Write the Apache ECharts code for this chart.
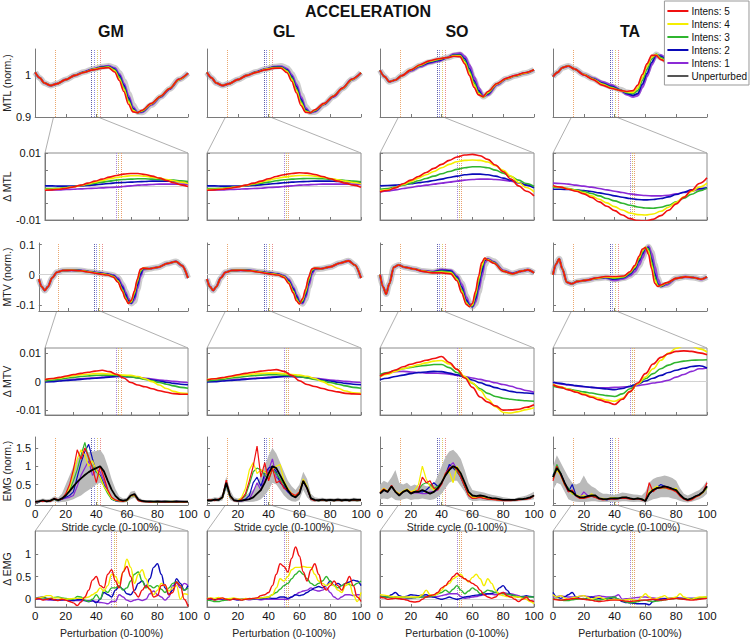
<!DOCTYPE html>
<html><head><meta charset="utf-8">
<script src="https://cdn.jsdelivr.net/npm/echarts@6/dist/echarts.min.js"></script>
<style>html,body{margin:0;padding:0;background:#fff}#c{width:750px;height:640px}</style>
</head><body><div id="c"></div>
<script>
// ---------- x grids ----------
const X_MTL=[0,3,6,10,14,20,26,32,38,44,48,52,55,58,61,64,67,70,76,82,88,94,100];
const X_MTV=[0,2,4,6,9,12,16,22,28,34,40,46,50,53,56,58,60,62,64,66,68,70,74,80,86,92,96,100];
const X21=[0,5,10,15,20,25,30,35,40,45,50,55,60,65,70,75,80,85,90,95,100];
const X41=[0,2.5,5,7.5,10,12.5,15,17.5,20,22.5,25,27.5,30,32.5,35,37.5,40,42.5,45,47.5,50,52.5,55,57.5,60,62.5,65,67.5,70,72.5,75,77.5,80,82.5,85,87.5,90,92.5,95,97.5,100];
const STRIDE_MARKS=[13,37,38.5,40.5,42.5];
const PERT_MARKS=[50,51.5,53];
const ZOOM_WINDOW=[12,41];
const X_TICKS=[0,20,40,60,80,100];

// ---------- MTL (norm.) ----------
const GM_MTL_U=[1.005,0.992,0.980,0.974,0.978,0.988,0.998,1.006,1.013,1.018,1.020,1.016,1.004,0.984,0.955,0.928,0.912,0.911,0.928,0.947,0.966,0.988,1.003];
const GM_MTL_1=[1.005,0.992,0.980,0.974,0.978,0.988,0.998,1.006,1.013,1.018,1.020,1.015,1.001,0.979,0.950,0.923,0.910,0.912,0.929,0.947,0.966,0.988,1.003];
const GM_MTL_2=[1.005,0.992,0.980,0.974,0.978,0.988,0.998,1.006,1.013,1.018,1.019,1.013,0.998,0.975,0.945,0.920,0.910,0.913,0.930,0.948,0.966,0.988,1.003];
const GM_MTL_3=[1.005,0.992,0.980,0.974,0.978,0.988,0.998,1.006,1.012,1.017,1.018,1.011,0.994,0.970,0.940,0.917,0.910,0.914,0.931,0.948,0.967,0.988,1.003];
const GM_MTL_4=[1.005,0.992,0.980,0.974,0.978,0.988,0.998,1.005,1.012,1.016,1.017,1.009,0.990,0.966,0.936,0.915,0.910,0.915,0.931,0.949,0.967,0.988,1.003];
const GM_MTL_5=[1.005,0.992,0.980,0.974,0.978,0.988,0.998,1.005,1.011,1.015,1.016,1.006,0.986,0.960,0.930,0.912,0.910,0.916,0.932,0.949,0.967,0.989,1.003];
const GL_MTL_U=[1.005,0.992,0.980,0.974,0.978,0.988,0.998,1.006,1.013,1.018,1.020,1.015,1.002,0.981,0.952,0.925,0.911,0.912,0.929,0.948,0.967,0.988,1.004];
const GL_MTL_1=[1.005,0.992,0.980,0.974,0.978,0.988,0.998,1.006,1.013,1.018,1.019,1.013,0.999,0.977,0.947,0.921,0.910,0.913,0.930,0.948,0.967,0.988,1.004];
const GL_MTL_2=[1.005,0.992,0.980,0.974,0.978,0.988,0.998,1.006,1.013,1.018,1.018,1.011,0.996,0.972,0.942,0.918,0.910,0.914,0.930,0.948,0.967,0.988,1.004];
const GL_MTL_3=[1.005,0.992,0.980,0.974,0.978,0.988,0.998,1.006,1.012,1.017,1.017,1.009,0.992,0.967,0.937,0.915,0.910,0.915,0.931,0.949,0.967,0.988,1.004];
const GL_MTL_4=[1.005,0.992,0.980,0.974,0.978,0.988,0.998,1.005,1.012,1.016,1.016,1.007,0.988,0.963,0.933,0.913,0.910,0.916,0.931,0.949,0.967,0.988,1.004];
const GL_MTL_5=[1.005,0.992,0.980,0.974,0.978,0.988,0.998,1.005,1.011,1.015,1.015,1.004,0.984,0.957,0.927,0.911,0.910,0.917,0.932,0.949,0.968,0.989,1.004];
const SO_MTL_U=[1.010,0.995,0.983,0.987,0.997,1.010,1.021,1.029,1.034,1.040,1.045,1.047,1.037,1.015,0.988,0.963,0.948,0.954,0.977,0.990,0.997,1.003,1.011];
const SO_MTL_1=[1.010,0.995,0.983,0.987,0.997,1.009,1.019,1.027,1.032,1.040,1.048,1.050,1.042,1.022,0.994,0.968,0.950,0.952,0.976,0.990,0.997,1.003,1.011];
const SO_MTL_2=[1.010,0.995,0.983,0.987,0.997,1.010,1.020,1.028,1.033,1.040,1.046,1.047,1.037,1.014,0.986,0.962,0.948,0.954,0.977,0.990,0.997,1.003,1.011];
const SO_MTL_3=[1.010,0.995,0.983,0.987,0.997,1.010,1.021,1.030,1.035,1.040,1.045,1.045,1.033,1.009,0.981,0.958,0.947,0.956,0.978,0.990,0.997,1.003,1.011];
const SO_MTL_4=[1.010,0.995,0.983,0.987,0.997,1.011,1.022,1.031,1.036,1.040,1.044,1.044,1.029,1.004,0.976,0.955,0.947,0.958,0.978,0.990,0.997,1.003,1.011];
const SO_MTL_5=[1.010,0.995,0.983,0.987,0.997,1.011,1.023,1.032,1.037,1.040,1.043,1.042,1.025,0.998,0.970,0.952,0.948,0.960,0.979,0.991,0.998,1.004,1.011];
const TA_MTL_U=[0.995,1.005,1.016,1.020,1.013,1.000,0.990,0.979,0.971,0.964,0.958,0.955,0.960,0.983,1.008,1.033,1.047,1.040,1.026,1.016,1.008,1.001,0.997];
const TA_MTL_1=[0.995,1.005,1.016,1.020,1.013,1.000,0.991,0.982,0.975,0.963,0.953,0.948,0.951,0.970,0.996,1.023,1.043,1.045,1.028,1.016,1.008,1.001,0.997];
const TA_MTL_2=[0.995,1.005,1.016,1.020,1.013,1.000,0.990,0.980,0.972,0.963,0.955,0.951,0.955,0.977,1.002,1.028,1.046,1.043,1.027,1.016,1.008,1.001,0.997];
const TA_MTL_3=[0.995,1.005,1.016,1.020,1.013,1.000,0.990,0.978,0.970,0.963,0.957,0.955,0.962,0.986,1.012,1.036,1.048,1.040,1.026,1.016,1.008,1.001,0.997];
const TA_MTL_4=[0.995,1.005,1.016,1.020,1.013,1.000,0.989,0.977,0.968,0.962,0.959,0.958,0.968,0.993,1.019,1.041,1.047,1.037,1.025,1.015,1.008,1.001,0.997];
const TA_MTL_5=[0.995,1.005,1.016,1.020,1.013,0.999,0.988,0.975,0.967,0.962,0.960,0.962,0.975,1.000,1.025,1.045,1.045,1.035,1.024,1.015,1.008,1.001,0.997];

// ---------- Δ MTL ----------
const GM_DMTL_1=[-0.0011,-0.001,-0.001,-0.0009,-0.0008,-0.0007,-0.0006,-0.0005,-0.0004,-0.0003,-0.0002,0,0.0002,0.0004,0.0005,0.0006,0.0007,0.0007,0.0007,0.0007,0.0007];
const GM_DMTL_2=[0.0002,0.0002,0.0001,0.0001,0.0001,0.0002,0.0003,0.0005,0.0007,0.0009,0.0011,0.0012,0.0013,0.0014,0.0015,0.0016,0.0016,0.0016,0.0015,0.0014,0.0013];
const GM_DMTL_3=[-0.0006,-0.0006,-0.0005,-0.0003,0,0.0003,0.0006,0.001,0.0013,0.0016,0.0019,0.0021,0.0022,0.0023,0.0023,0.0022,0.0021,0.002,0.0019,0.0017,0.0015];
const GM_DMTL_4=[-0.0009,-0.0008,-0.0007,-0.0004,-0.0001,0.0003,0.0008,0.0013,0.0018,0.0023,0.0027,0.003,0.0032,0.0032,0.0031,0.0028,0.0025,0.0021,0.0017,0.0013,0.0009];
const GM_DMTL_5=[-0.0011,-0.001,-0.0008,-0.0005,-0.0001,0.0004,0.001,0.0016,0.0022,0.0028,0.0033,0.0037,0.0039,0.0039,0.0036,0.0031,0.0025,0.0018,0.0011,0.0005,0];
const GL_DMTL_1=[-0.0011,-0.001,-0.001,-0.0009,-0.0008,-0.0007,-0.0006,-0.0005,-0.0003,-0.0002,0,0.0002,0.0004,0.0005,0.0006,0.0007,0.0007,0.0007,0.0007,0.0007,0.0006];
const GL_DMTL_2=[0.0002,0.0002,0.0001,0.0001,0.0001,0.0002,0.0003,0.0005,0.0007,0.0009,0.0011,0.0013,0.0014,0.0015,0.0016,0.0016,0.0016,0.0015,0.0014,0.0013,0.0012];
const GL_DMTL_3=[-0.0006,-0.0006,-0.0005,-0.0003,0,0.0003,0.0006,0.001,0.0013,0.0017,0.002,0.0022,0.0023,0.0024,0.0024,0.0023,0.0022,0.002,0.0018,0.0016,0.0014];
const GL_DMTL_4=[-0.0009,-0.0008,-0.0007,-0.0004,-0.0001,0.0003,0.0008,0.0013,0.0019,0.0024,0.0028,0.0031,0.0033,0.0033,0.0031,0.0028,0.0024,0.002,0.0016,0.0012,0.0008];
const GL_DMTL_5=[-0.0011,-0.001,-0.0008,-0.0005,-0.0001,0.0004,0.001,0.0016,0.0023,0.003,0.0035,0.0039,0.0041,0.004,0.0036,0.003,0.0023,0.0016,0.001,0.0004,-0.0002];
const SO_DMTL_1=[-0.0016,-0.0013,-0.001,-0.0006,-0.0003,0.0001,0.0004,0.0007,0.001,0.0013,0.0016,0.0019,0.0021,0.0022,0.0022,0.0021,0.0019,0.0016,0.0011,0.0005,0];
const SO_DMTL_2=[0.0002,0.0003,0.0004,0.0006,0.0008,0.0011,0.0014,0.0018,0.0022,0.0027,0.0031,0.0035,0.0037,0.0037,0.0035,0.0031,0.0025,0.0019,0.0011,0.0004,-0.0004];
const SO_DMTL_3=[-0.0008,-0.0006,-0.0002,0.0004,0.001,0.0017,0.0024,0.0031,0.0038,0.0045,0.0051,0.0056,0.0059,0.0059,0.0056,0.0049,0.004,0.003,0.0019,0.0009,0];
const SO_DMTL_4=[-0.0013,-0.001,-0.0003,0.0006,0.0015,0.0025,0.0035,0.0045,0.0056,0.0066,0.0074,0.0078,0.0079,0.0078,0.0073,0.0062,0.0048,0.0031,0.0012,-0.0003,-0.0016];
const SO_DMTL_5=[-0.0016,-0.0012,-0.0004,0.0008,0.0019,0.003,0.0042,0.0054,0.0066,0.0078,0.0088,0.0094,0.0096,0.0092,0.0081,0.0064,0.0044,0.0022,0.0002,-0.0014,-0.0028];
const TA_DMTL_1=[0.001,0.0009,0.0007,0.0004,0.0001,-0.0002,-0.0006,-0.001,-0.0014,-0.0018,-0.0022,-0.0025,-0.0027,-0.0028,-0.0028,-0.0026,-0.0022,-0.0018,-0.0014,-0.0009,-0.0005];
const TA_DMTL_2=[-0.0008,-0.0008,-0.0009,-0.001,-0.0012,-0.0015,-0.0019,-0.0023,-0.0028,-0.0032,-0.0036,-0.0039,-0.004,-0.0039,-0.0036,-0.0031,-0.0024,-0.0017,-0.001,-0.0006,-0.0004];
const TA_DMTL_3=[-0.0001,-0.0003,-0.0006,-0.001,-0.0015,-0.0021,-0.0028,-0.0036,-0.0043,-0.005,-0.0056,-0.0061,-0.0064,-0.0065,-0.0062,-0.0056,-0.0046,-0.0035,-0.0023,-0.0013,-0.0005];
const TA_DMTL_4=[0.0001,-0.0002,-0.0007,-0.0012,-0.0019,-0.0028,-0.0038,-0.0049,-0.006,-0.007,-0.0079,-0.0084,-0.0085,-0.0082,-0.0074,-0.0062,-0.0047,-0.0031,-0.0015,-0.0002,0.001];
const TA_DMTL_5=[0.0002,-0.0002,-0.0008,-0.0014,-0.0022,-0.0033,-0.0046,-0.0059,-0.0072,-0.0085,-0.0096,-0.0102,-0.0103,-0.0098,-0.0087,-0.0071,-0.0052,-0.0032,-0.0011,0.0009,0.0026];

// ---------- MTV (norm.) ----------
const GM_MTV_U=[-0.014,-0.040,-0.052,-0.040,-0.010,0.008,0.014,0.015,0.014,0.010,0.006,0.002,-0.002,-0.010,-0.032,-0.054,-0.077,-0.095,-0.088,-0.050,-0.010,0.016,0.020,0.025,0.037,0.044,0.030,-0.011];
const GM_MTV_1=[-0.014,-0.040,-0.052,-0.040,-0.010,0.008,0.014,0.015,0.014,0.010,0.006,0.002,-0.002,-0.012,-0.036,-0.058,-0.080,-0.094,-0.082,-0.045,-0.005,0.018,0.020,0.025,0.037,0.044,0.030,-0.011];
const GM_MTV_2=[-0.014,-0.040,-0.052,-0.040,-0.010,0.008,0.014,0.015,0.014,0.010,0.006,0.002,-0.003,-0.015,-0.040,-0.064,-0.086,-0.094,-0.075,-0.036,0.000,0.020,0.020,0.025,0.037,0.044,0.030,-0.011];
const GM_MTV_3=[-0.014,-0.040,-0.052,-0.040,-0.010,0.008,0.014,0.015,0.014,0.010,0.005,0.001,-0.005,-0.020,-0.048,-0.072,-0.092,-0.091,-0.065,-0.025,0.010,0.021,0.020,0.025,0.037,0.044,0.030,-0.011];
const GM_MTV_4=[-0.014,-0.040,-0.052,-0.040,-0.010,0.008,0.014,0.015,0.013,0.009,0.004,0.000,-0.006,-0.022,-0.052,-0.077,-0.094,-0.088,-0.060,-0.020,0.014,0.022,0.020,0.025,0.037,0.044,0.030,-0.011];
const GM_MTV_5=[-0.014,-0.040,-0.052,-0.040,-0.010,0.008,0.014,0.015,0.013,0.008,0.003,-0.001,-0.008,-0.025,-0.055,-0.080,-0.095,-0.085,-0.055,-0.015,0.018,0.022,0.020,0.025,0.037,0.044,0.030,-0.011];
const GL_MTV_U=[-0.014,-0.040,-0.052,-0.040,-0.010,0.008,0.014,0.015,0.014,0.010,0.006,0.002,-0.003,-0.013,-0.038,-0.062,-0.085,-0.096,-0.080,-0.040,-0.002,0.018,0.020,0.026,0.038,0.046,0.032,-0.011];
const GL_MTV_1=[-0.014,-0.040,-0.052,-0.040,-0.010,0.008,0.014,0.015,0.014,0.010,0.006,0.002,-0.004,-0.016,-0.042,-0.066,-0.088,-0.094,-0.074,-0.035,0.002,0.019,0.020,0.026,0.038,0.046,0.032,-0.011];
const GL_MTV_2=[-0.014,-0.040,-0.052,-0.040,-0.010,0.008,0.014,0.015,0.014,0.010,0.006,0.002,-0.005,-0.019,-0.046,-0.070,-0.091,-0.092,-0.068,-0.028,0.008,0.020,0.020,0.026,0.038,0.046,0.032,-0.011];
const GL_MTV_3=[-0.014,-0.040,-0.052,-0.040,-0.010,0.008,0.014,0.015,0.014,0.010,0.005,0.001,-0.006,-0.023,-0.052,-0.077,-0.094,-0.088,-0.060,-0.020,0.013,0.021,0.020,0.026,0.038,0.046,0.032,-0.011];
const GL_MTV_4=[-0.014,-0.040,-0.052,-0.040,-0.010,0.008,0.014,0.015,0.013,0.009,0.004,0.000,-0.007,-0.026,-0.056,-0.082,-0.096,-0.084,-0.054,-0.014,0.016,0.022,0.020,0.026,0.038,0.046,0.032,-0.011];
const GL_MTV_5=[-0.014,-0.040,-0.052,-0.040,-0.010,0.008,0.014,0.015,0.013,0.008,0.003,-0.001,-0.009,-0.029,-0.060,-0.086,-0.097,-0.080,-0.048,-0.008,0.019,0.022,0.020,0.026,0.038,0.046,0.032,-0.011];
const SO_MTV_U=[0.000,-0.040,-0.064,-0.030,0.025,0.032,0.025,0.019,0.012,0.009,0.014,0.011,-0.005,-0.028,-0.070,-0.092,-0.106,-0.095,-0.058,-0.015,0.032,0.052,0.045,0.015,0.004,0.012,0.016,0.006];
const SO_MTV_1=[0.000,-0.040,-0.064,-0.030,0.025,0.032,0.025,0.019,0.012,0.010,0.016,0.014,-0.005,-0.032,-0.075,-0.096,-0.106,-0.090,-0.050,-0.005,0.040,0.052,0.042,0.014,0.004,0.012,0.016,0.006];
const SO_MTV_2=[0.000,-0.040,-0.064,-0.030,0.025,0.032,0.025,0.019,0.012,0.009,0.015,0.012,-0.008,-0.040,-0.083,-0.100,-0.106,-0.082,-0.038,0.008,0.048,0.051,0.041,0.013,0.004,0.012,0.016,0.006];
const SO_MTV_3=[0.000,-0.040,-0.064,-0.030,0.025,0.032,0.025,0.019,0.012,0.008,0.012,0.009,-0.012,-0.048,-0.090,-0.104,-0.103,-0.072,-0.025,0.022,0.053,0.050,0.040,0.012,0.003,0.012,0.016,0.006];
const SO_MTV_4=[0.000,-0.040,-0.064,-0.030,0.025,0.032,0.025,0.019,0.012,0.007,0.009,0.006,-0.016,-0.054,-0.094,-0.105,-0.100,-0.064,-0.015,0.030,0.054,0.049,0.039,0.012,0.003,0.012,0.016,0.006];
const SO_MTV_5=[0.000,-0.040,-0.064,-0.030,0.025,0.032,0.025,0.019,0.011,0.006,0.006,0.003,-0.020,-0.060,-0.098,-0.106,-0.095,-0.055,-0.005,0.040,0.055,0.048,0.038,0.011,0.003,0.012,0.016,0.006];
const TA_MTV_U=[0.000,0.035,0.053,0.020,-0.025,-0.030,-0.022,-0.018,-0.012,-0.009,-0.016,-0.011,-0.003,0.008,0.030,0.052,0.077,0.093,0.074,0.034,-0.010,-0.036,-0.033,-0.012,-0.007,-0.010,-0.015,-0.007];
const TA_MTV_1=[0.000,0.035,0.053,0.020,-0.025,-0.030,-0.022,-0.018,-0.012,-0.010,-0.018,-0.012,-0.002,0.010,0.034,0.056,0.080,0.093,0.070,0.028,-0.015,-0.038,-0.032,-0.012,-0.007,-0.010,-0.015,-0.007];
const TA_MTV_2=[0.000,0.035,0.053,0.020,-0.025,-0.030,-0.022,-0.018,-0.012,-0.009,-0.015,-0.010,0.002,0.018,0.046,0.068,0.088,0.090,0.053,0.005,-0.030,-0.039,-0.029,-0.012,-0.007,-0.010,-0.015,-0.007];
const TA_MTV_3=[0.000,0.035,0.053,0.020,-0.025,-0.030,-0.022,-0.018,-0.012,-0.008,-0.012,-0.008,0.005,0.022,0.052,0.074,0.091,0.086,0.044,-0.005,-0.034,-0.038,-0.028,-0.012,-0.007,-0.010,-0.015,-0.007];
const TA_MTV_4=[0.000,0.035,0.053,0.020,-0.025,-0.030,-0.022,-0.018,-0.012,-0.007,-0.009,-0.006,0.008,0.026,0.057,0.080,0.092,0.078,0.032,-0.016,-0.037,-0.036,-0.027,-0.012,-0.007,-0.010,-0.015,-0.007];
const TA_MTV_5=[0.000,0.035,0.053,0.020,-0.025,-0.030,-0.022,-0.018,-0.011,-0.006,-0.006,-0.004,0.010,0.030,0.062,0.085,0.090,0.068,0.020,-0.028,-0.039,-0.034,-0.026,-0.012,-0.007,-0.010,-0.015,-0.007];

// ---------- Δ MTV ----------
const GM_DMTV_1=[0.0001,0.0002,0.0004,0.0006,0.0008,0.001,0.0012,0.0013,0.0015,0.0017,0.0018,0.0018,0.0017,0.0015,0.0012,0.0009,0.0006,0.0004,0.0001,-0.0001,-0.0003];
const GM_DMTV_2=[-0.0001,0,0.0002,0.0004,0.0006,0.0008,0.001,0.0012,0.0014,0.0016,0.0018,0.0018,0.0017,0.0014,0.001,0.0006,0.0002,-0.0002,-0.0006,-0.0009,-0.0011];
const GM_DMTV_3=[0.0002,0.0005,0.0008,0.0012,0.0015,0.0018,0.002,0.0022,0.0023,0.0023,0.0022,0.002,0.0017,0.0013,0.0008,0.0003,-0.0003,-0.0009,-0.0015,-0.002,-0.0023];
const GM_DMTV_4=[0.0007,0.001,0.0013,0.0017,0.0021,0.0024,0.0026,0.0028,0.0028,0.0027,0.0025,0.0023,0.0022,0.0018,0.001,0,-0.0012,-0.0024,-0.0034,-0.004,-0.0042];
const GM_DMTV_5=[0.0007,0.0011,0.0015,0.002,0.0025,0.0029,0.0033,0.0037,0.004,0.0035,0.0026,0.0013,-0.0003,-0.0012,-0.0018,-0.0025,-0.0032,-0.0037,-0.0042,-0.0044,-0.0044];
const GL_DMTV_1=[0.0001,0.0002,0.0004,0.0006,0.0008,0.001,0.0012,0.0013,0.0015,0.0017,0.0018,0.0018,0.0017,0.0015,0.0012,0.0009,0.0006,0.0004,0.0001,-0.0001,-0.0003];
const GL_DMTV_2=[-0.0001,0,0.0002,0.0004,0.0006,0.0008,0.001,0.0012,0.0014,0.0016,0.0018,0.0018,0.0017,0.0014,0.001,0.0006,0.0002,-0.0002,-0.0006,-0.0009,-0.0011];
const GL_DMTV_3=[0.0002,0.0005,0.0008,0.0012,0.0015,0.0018,0.0021,0.0023,0.0024,0.0024,0.0023,0.0021,0.0018,0.0013,0.0008,0.0003,-0.0003,-0.0009,-0.0015,-0.002,-0.0023];
const GL_DMTV_4=[0.0007,0.001,0.0013,0.0017,0.0021,0.0024,0.0027,0.0029,0.003,0.003,0.0028,0.0025,0.0023,0.0019,0.0011,0,-0.0012,-0.0023,-0.0033,-0.0039,-0.0041];
const GL_DMTV_5=[0.0006,0.001,0.0014,0.0019,0.0024,0.0029,0.0033,0.0037,0.004,0.0042,0.0036,0.0022,0.0003,-0.001,-0.0017,-0.0024,-0.0031,-0.0036,-0.0041,-0.0043,-0.0044];
const SO_DMTV_1=[0.0021,0.003,0.0035,0.0036,0.0034,0.0032,0.003,0.003,0.0029,0.0026,0.0022,0.0018,0.0013,0.0008,0.0002,-0.0004,-0.001,-0.0016,-0.0024,-0.0031,-0.0037];
const SO_DMTV_2=[0.0007,0.0012,0.0018,0.0023,0.0028,0.0032,0.0034,0.0036,0.0035,0.003,0.0024,0.0016,0.0006,-0.0004,-0.0013,-0.0021,-0.0028,-0.0034,-0.0038,-0.004,-0.0042];
const SO_DMTV_3=[0.0025,0.0032,0.0039,0.0045,0.005,0.0054,0.0057,0.006,0.006,0.0049,0.0032,0.0015,-0.0006,-0.0025,-0.0041,-0.0052,-0.0058,-0.0062,-0.0065,-0.0067,-0.0069];
const SO_DMTV_4=[0.0017,0.0026,0.0036,0.0045,0.0052,0.0059,0.0066,0.0072,0.0074,0.0062,0.0043,0.0018,-0.0005,-0.003,-0.0062,-0.0088,-0.0108,-0.011,-0.0105,-0.0098,-0.0092];
const SO_DMTV_5=[0.0019,0.003,0.0041,0.0052,0.0061,0.0068,0.0075,0.0081,0.0088,0.0067,0.0043,0.0013,-0.002,-0.0054,-0.0072,-0.0085,-0.01,-0.0099,-0.0097,-0.009,-0.0081];
const TA_DMTV_1=[-0.0002,-0.0008,-0.0012,-0.0015,-0.0018,-0.002,-0.0022,-0.0022,-0.002,-0.0019,-0.0018,-0.0014,-0.001,-0.0005,-0.0001,0.0005,0.0016,0.0025,0.0036,0.0045,0.0048];
const TA_DMTV_2=[-0.0002,-0.0006,-0.001,-0.0014,-0.0017,-0.002,-0.0023,-0.0026,-0.0028,-0.0024,-0.0016,-0.0008,0.0002,0.0012,0.0022,0.0032,0.004,0.0047,0.0053,0.0056,0.0048];
const TA_DMTV_3=[-0.0016,-0.0021,-0.0026,-0.0031,-0.0036,-0.004,-0.0045,-0.0049,-0.0052,-0.0043,-0.0025,-0.0008,0.001,0.0028,0.0045,0.0058,0.0067,0.0072,0.0075,0.0076,0.0077];
const TA_DMTV_4=[-0.0009,-0.0018,-0.0027,-0.0035,-0.0043,-0.0051,-0.0058,-0.0065,-0.0069,-0.0058,-0.0035,-0.0008,0.0016,0.0045,0.0075,0.01,0.0117,0.0125,0.0125,0.0115,0.0104];
const TA_DMTV_5=[-0.0011,-0.002,-0.0029,-0.0037,-0.0046,-0.0055,-0.0064,-0.0072,-0.008,-0.0062,-0.0035,-0.0005,0.0028,0.0062,0.0085,0.0098,0.0106,0.0108,0.0106,0.0101,0.0094];

// ---------- EMG (norm.) ----------
const GM_EMG_U=[0.03,0.04,0.07,0.04,0.06,0.11,0.07,0.12,0.2,0.32,0.45,0.57,0.67,0.76,0.84,0.9,0.95,1.0,0.86,0.6,0.36,0.19,0.09,0.06,0.08,0.2,0.24,0.09,0.05,0.04,0.04,0.03,0.04,0.03,0.04,0.03,0.03,0.04,0.03,0.03,0.03];
const GM_EMG_HI=[0.08,0.09,0.12,0.1,0.11,0.18,0.14,0.25,0.5,0.75,1.0,1.2,1.3,1.35,1.38,1.4,1.42,1.45,1.3,1.0,0.65,0.38,0.18,0.12,0.14,0.3,0.33,0.16,0.09,0.07,0.07,0.06,0.07,0.06,0.07,0.06,0.06,0.07,0.06,0.06,0.06];
const GM_EMG_LO=[0,0,0.02,0,0.01,0.04,0.01,0.02,0.03,0.06,0.1,0.15,0.2,0.28,0.35,0.42,0.5,0.55,0.45,0.25,0.1,0.03,0.01,0,0.02,0.1,0.14,0.03,0.01,0,0,0,0,0,0,0,0,0,0,0,0];
const GM_EMG_1=[0.02,0.03,0.05,0.04,0.05,0.1,0.06,0.1,0.13,0.15,0.2,0.45,0.75,0.95,1.15,0.75,0.9,0.85,0.6,0.35,0.12,0.06,0.04,0.04,0.06,0.17,0.2,0.07,0.04,0.03,0.03,0.02,0.03,0.04,0.03,0.02,0.03,0.03,0.04,0.03,0.03];
const GM_EMG_2=[0.02,0.03,0.05,0.04,0.05,0.1,0.06,0.1,0.15,0.2,0.3,0.7,1.1,1.4,1.6,1.2,0.85,0.75,0.5,0.3,0.1,0.06,0.04,0.04,0.06,0.18,0.21,0.07,0.04,0.03,0.02,0.03,0.04,0.03,0.02,0.03,0.03,0.04,0.02,0.03,0.03];
const GM_EMG_3=[0.03,0.03,0.05,0.04,0.06,0.1,0.06,0.11,0.2,0.35,0.6,0.9,1.3,1.65,1.2,1.0,0.85,0.7,0.45,0.25,0.1,0.06,0.05,0.04,0.06,0.18,0.2,0.07,0.04,0.03,0.03,0.04,0.02,0.03,0.03,0.04,0.02,0.03,0.03,0.02,0.03];
const GM_EMG_4=[0.03,0.04,0.06,0.05,0.05,0.1,0.07,0.12,0.22,0.4,0.8,1.2,1.45,1.3,1.0,1.15,0.9,0.7,0.45,0.3,0.12,0.07,0.05,0.05,0.06,0.18,0.2,0.07,0.04,0.03,0.03,0.02,0.04,0.03,0.03,0.02,0.04,0.03,0.02,0.03,0.03];
const GM_EMG_5=[0.02,0.05,0.03,0.06,0.04,0.12,0.08,0.1,0.25,0.5,0.9,1.45,1.2,1.5,1.25,0.95,0.55,1.0,0.7,0.35,0.15,0.08,0.05,0.04,0.07,0.2,0.22,0.06,0.03,0.04,0.02,0.03,0.03,0.02,0.03,0.02,0.03,0.02,0.03,0.02,0.03];
const GL_EMG_U=[0.07,0.06,0.09,0.08,0.15,0.55,0.2,0.07,0.05,0.06,0.08,0.1,0.15,0.25,0.35,0.55,0.8,1.0,0.95,0.75,0.55,0.35,0.2,0.15,0.25,0.6,0.4,0.12,0.08,0.07,0.09,0.07,0.08,0.07,0.09,0.07,0.08,0.07,0.09,0.08,0.08];
const GL_EMG_HI=[0.12,0.12,0.15,0.14,0.25,0.72,0.35,0.15,0.12,0.14,0.2,0.28,0.35,0.5,0.75,1.0,1.3,1.5,1.35,1.1,0.85,0.6,0.45,0.35,0.5,0.85,0.65,0.25,0.15,0.13,0.14,0.12,0.13,0.12,0.14,0.12,0.13,0.12,0.14,0.13,0.13];
const GL_EMG_LO=[0.02,0.02,0.04,0.03,0.06,0.35,0.08,0.02,0.01,0.01,0.02,0.02,0.03,0.05,0.1,0.2,0.35,0.55,0.5,0.35,0.2,0.1,0.04,0.03,0.08,0.35,0.15,0.04,0.02,0.02,0.03,0.02,0.03,0.02,0.03,0.02,0.03,0.02,0.03,0.03,0.03];
const GL_EMG_1=[0.06,0.07,0.08,0.08,0.13,0.5,0.16,0.07,0.05,0.05,0.07,0.1,0.3,0.55,0.35,0.7,0.9,1.2,0.7,0.6,0.4,0.3,0.2,0.16,0.27,0.58,0.4,0.11,0.07,0.06,0.07,0.06,0.07,0.06,0.07,0.06,0.07,0.06,0.07,0.06,0.07];
const GL_EMG_2=[0.06,0.07,0.08,0.08,0.13,0.5,0.16,0.07,0.05,0.06,0.1,0.2,0.55,0.7,0.45,0.8,0.95,1.0,0.85,0.55,0.45,0.3,0.2,0.16,0.27,0.6,0.4,0.11,0.07,0.06,0.07,0.06,0.07,0.06,0.07,0.06,0.07,0.06,0.07,0.06,0.07];
const GL_EMG_3=[0.06,0.07,0.08,0.08,0.13,0.5,0.16,0.07,0.06,0.1,0.2,0.5,0.85,0.95,0.9,0.75,0.65,0.9,0.8,0.65,0.5,0.35,0.22,0.17,0.28,0.6,0.42,0.11,0.07,0.06,0.07,0.06,0.07,0.06,0.07,0.06,0.07,0.06,0.07,0.06,0.07];
const GL_EMG_4=[0.06,0.07,0.08,0.09,0.13,0.55,0.17,0.07,0.06,0.15,0.4,0.9,1.1,0.8,0.9,0.85,0.75,0.9,1.0,1.05,0.6,0.4,0.25,0.18,0.3,0.65,0.45,0.12,0.07,0.06,0.07,0.06,0.07,0.06,0.07,0.06,0.07,0.06,0.07,0.06,0.07];
const GL_EMG_5=[0.07,0.08,0.06,0.1,0.14,0.62,0.18,0.06,0.05,0.1,0.25,0.6,1.0,1.55,0.7,1.1,0.6,0.95,0.55,0.6,0.4,0.35,0.25,0.2,0.3,0.6,0.4,0.1,0.06,0.07,0.08,0.06,0.07,0.06,0.08,0.06,0.07,0.06,0.08,0.07,0.07];
const SO_EMG_U=[0.25,0.35,0.3,0.45,0.3,0.2,0.3,0.35,0.25,0.3,0.3,0.35,0.3,0.25,0.3,0.4,0.55,0.75,0.9,1.0,0.95,0.8,0.55,0.3,0.2,0.18,0.2,0.18,0.15,0.13,0.12,0.1,0.08,0.08,0.08,0.08,0.1,0.1,0.12,0.15,0.2];
const SO_EMG_HI=[0.5,0.6,0.55,0.7,0.9,0.55,0.5,0.55,0.45,0.5,0.45,0.5,0.45,0.45,0.5,0.75,1.0,1.25,1.4,1.45,1.35,1.2,0.9,0.55,0.35,0.32,0.3,0.28,0.25,0.22,0.2,0.18,0.15,0.14,0.12,0.12,0.15,0.17,0.2,0.25,0.3];
const SO_EMG_LO=[0.1,0.12,0.1,0.15,0.08,0.06,0.1,0.12,0.08,0.1,0.1,0.12,0.1,0.08,0.1,0.15,0.25,0.4,0.55,0.6,0.6,0.45,0.3,0.1,0.05,0.05,0.06,0.05,0.05,0.04,0.04,0.03,0.03,0.03,0.03,0.03,0.04,0.05,0.06,0.08,0.1];
const SO_EMG_1=[0.26,0.35,0.3,0.44,0.3,0.22,0.3,0.34,0.26,0.28,0.27,0.25,0.25,0.3,0.3,0.35,0.55,0.8,1.0,1.1,0.9,0.68,0.45,0.22,0.14,0.14,0.16,0.13,0.11,0.1,0.09,0.08,0.07,0.07,0.07,0.08,0.09,0.1,0.11,0.13,0.2];
const SO_EMG_2=[0.26,0.35,0.3,0.44,0.3,0.22,0.3,0.34,0.26,0.3,0.3,0.3,0.35,0.45,0.55,0.45,0.55,0.75,1.05,0.95,0.85,0.7,0.45,0.22,0.14,0.14,0.16,0.13,0.11,0.1,0.09,0.08,0.07,0.07,0.07,0.08,0.09,0.1,0.11,0.13,0.2];
const SO_EMG_3=[0.27,0.36,0.3,0.44,0.3,0.22,0.3,0.34,0.26,0.32,0.35,0.5,0.55,0.5,0.4,0.45,0.55,0.75,0.9,1.0,0.85,0.7,0.45,0.22,0.14,0.14,0.16,0.13,0.11,0.1,0.09,0.08,0.07,0.07,0.07,0.08,0.09,0.1,0.11,0.13,0.2];
const SO_EMG_4=[0.3,0.4,0.32,0.45,0.32,0.25,0.32,0.38,0.3,0.35,0.5,1.0,0.65,0.45,0.35,0.4,0.55,0.8,0.85,0.55,1.0,0.8,0.5,0.25,0.15,0.15,0.17,0.14,0.12,0.1,0.09,0.08,0.07,0.07,0.07,0.08,0.09,0.1,0.11,0.13,0.2];
const SO_EMG_5=[0.28,0.38,0.3,0.48,0.3,0.22,0.3,0.35,0.28,0.3,0.35,0.7,0.55,0.6,0.4,0.35,0.5,0.8,0.95,1.0,0.9,0.7,0.45,0.2,0.12,0.13,0.15,0.12,0.1,0.09,0.08,0.07,0.06,0.06,0.06,0.07,0.08,0.09,0.1,0.12,0.2];
const TA_EMG_U=[0.7,0.95,0.8,0.55,0.35,0.3,0.2,0.15,0.15,0.18,0.2,0.2,0.12,0.1,0.1,0.12,0.12,0.12,0.15,0.15,0.12,0.1,0.12,0.1,0.05,0.25,0.35,0.4,0.42,0.45,0.42,0.38,0.35,0.22,0.12,0.08,0.12,0.18,0.22,0.3,0.45];
const TA_EMG_HI=[1.0,1.3,1.1,0.9,0.7,0.55,0.5,0.55,0.75,0.55,0.45,0.4,0.3,0.25,0.25,0.23,0.22,0.25,0.28,0.27,0.25,0.23,0.22,0.2,0.3,0.55,0.65,0.7,0.72,0.75,0.72,0.68,0.6,0.4,0.25,0.2,0.25,0.3,0.35,0.45,0.6];
const TA_EMG_LO=[0.35,0.55,0.5,0.3,0.1,0.05,0.03,0.02,0.02,0.03,0.04,0.04,0.02,0.02,0.02,0.03,0.03,0.03,0.04,0.04,0.03,0.02,0.03,0.02,0,0.05,0.1,0.12,0.15,0.15,0.15,0.12,0.1,0.05,0.02,0.01,0.03,0.06,0.1,0.15,0.25];
const TA_EMG_1=[0.65,0.9,0.78,0.55,0.35,0.28,0.2,0.15,0.3,0.2,0.18,0.15,0.12,0.1,0.1,0.12,0.12,0.12,0.14,0.15,0.12,0.1,0.12,0.1,0.05,0.25,0.35,0.4,0.42,0.44,0.42,0.38,0.35,0.22,0.12,0.08,0.12,0.18,0.22,0.3,0.45];
const TA_EMG_2=[0.75,0.95,0.8,0.55,0.3,0.5,0.2,0.15,0.14,0.18,0.2,0.18,0.12,0.1,0.08,0.12,0.1,0.12,0.14,0.13,0.12,0.1,0.11,0.1,0.05,0.25,0.35,0.42,0.5,0.45,0.42,0.38,0.33,0.2,0.12,0.08,0.12,0.17,0.22,0.3,0.42];
const TA_EMG_3=[0.7,1.05,0.8,0.5,0.4,0.25,0.2,0.15,0.14,0.16,0.2,0.15,0.12,0.1,0.1,0.12,0.14,0.12,0.14,0.15,0.12,0.1,0.12,0.1,0.05,0.28,0.35,0.4,0.42,0.4,0.4,0.38,0.32,0.2,0.12,0.08,0.12,0.18,0.22,0.3,0.4];
const TA_EMG_4=[0.65,0.9,0.75,0.5,0.35,0.25,0.22,0.18,0.2,0.15,0.25,0.18,0.12,0.12,0.1,0.14,0.13,0.12,0.15,0.14,0.12,0.1,0.12,0.1,0.06,0.3,0.38,0.45,0.4,0.42,0.38,0.36,0.4,0.2,0.12,0.08,0.1,0.16,0.2,0.28,0.42];
const TA_EMG_5=[0.6,1.0,0.75,0.5,0.3,0.35,0.18,0.12,0.12,0.15,0.18,0.15,0.1,0.08,0.09,0.1,0.1,0.11,0.13,0.12,0.1,0.09,0.11,0.08,0.05,0.55,0.3,0.4,0.4,0.42,0.38,0.35,0.3,0.18,0.1,0.06,0.08,0.15,0.2,0.3,0.55];

// ---------- Δ EMG ----------
const GM_DEMG_1=[0,0,0,-0.01,-0.02,-0.02,-0.02,-0.02,-0.02,-0.02,-0.03,-0.03,-0.03,-0.03,-0.03,-0.04,-0.05,-0.07,-0.08,-0.1,-0.05,-0.05,0.1,0.05,-0.02,-0.05,-0.02,0,-0.03,0,0.12,0.18,0.1,0.05,-0.02,0.05,0.3,0.35,0.25,0.35,0.3];
const GM_DEMG_2=[0.02,0.04,0.05,0.02,0,-0.01,-0.02,-0.01,0,-0.02,-0.03,-0.01,0,-0.03,-0.05,-0.03,-0.08,0,0.15,0.1,0.05,0.2,0.28,0.22,0.12,0.1,0.2,0.35,0.4,0.28,0.45,0.7,0.78,0.55,0.25,0.1,0.2,0.45,0.35,0.2,0.3];
const GM_DEMG_3=[0,0.02,0.03,0.02,0.02,0.04,0.05,0.03,0.02,0.01,0,0.06,0.05,-0.02,-0.05,0,0.1,0,0.2,0.15,0.25,0.25,0.3,0.2,0.25,0.4,0.55,0.6,0.4,0.25,0.3,0.25,0.3,0.22,0.15,0.25,0.35,0.38,0.3,0.2,0.25];
const GM_DEMG_4=[0.02,0.03,0.05,0.08,0.08,0.03,0.03,0.02,0,0.01,0.02,0.02,0.02,0.03,0.05,0.1,0.15,0.25,0.18,0.3,0.55,0.5,0.35,0.6,0.88,0.7,0.35,0.55,0.65,0.45,0.2,0.1,0.2,0.35,0.3,0.18,0.25,0.3,0,0.12,0.1];
const GM_DEMG_5=[0,0.02,-0.02,0,0.02,-0.01,-0.03,0,-0.02,-0.05,-0.08,-0.14,-0.06,0.05,0.2,0.42,0.5,0.3,0.25,0.55,0.65,0.4,0.25,0.6,0.72,0.5,0.15,0.05,0.2,0.3,0.22,0.05,0.08,0.3,0.32,0.1,0.15,0.38,0.3,0,-0.16];
const GL_DEMG_1=[0,0,-0.01,0,0,-0.01,0,0,-0.01,0,0,-0.01,0,0,-0.01,0,0,0,0,0,0,0,0.05,0.1,0.15,0.18,0.2,0.25,0.2,0.18,0.2,0.25,0.15,0.05,0,0.05,0.1,0.1,0.08,0.1,0.1];
const GL_DEMG_2=[0.02,0.01,0,0.02,0.01,0,0.01,0,-0.01,0,0.01,0,0.01,0.02,0.01,0.02,0.03,0.02,0.02,0.05,0.05,0.02,0.05,0.1,0.08,0.1,0.15,0.2,0.25,0.28,0.25,0.3,0.4,0.3,0.35,0.3,0.35,0.38,0.42,0.4,0.3];
const GL_DEMG_3=[-0.02,-0.03,-0.05,-0.05,-0.03,-0.02,0,0.02,0,-0.01,0,0.02,0.01,0.02,0.03,0.04,0.05,0.1,0.15,0.22,0.3,0.35,0.45,0.55,0.62,0.55,0.45,0.35,0.3,0.35,0.4,0.5,0.4,0.3,0.25,0.3,0.35,0.32,0.3,0.35,0.4];
const GL_DEMG_4=[0.02,0.03,0.02,0.04,0.02,0.01,0.02,0.03,0.01,0,0.02,0.01,0.02,0.02,0.03,0.04,0.05,0.1,0.25,0.45,0.4,0.5,0.65,0.7,0.7,0.72,0.7,0.7,0.55,0.4,0.35,0.3,0.35,0.3,0.2,0.15,0.3,0.35,0.1,-0.05,0.15];
const GL_DEMG_5=[0,0.02,-0.02,0.01,0.03,0,-0.02,0.01,0,-0.02,0,0.01,0.02,0.03,0.08,0.1,0.15,0.3,0.55,0.78,0.72,0.6,0.9,1.15,0.95,0.6,0.4,0.65,0.78,0.55,0.3,0.2,0.3,0.4,0.3,0.2,0.35,0.5,0.3,0.05,-0.05];
const SO_DEMG_1=[0.05,0.05,0.05,0.05,0.05,0.02,0,0.01,0.02,0.04,0.05,0.05,0.05,0.05,0.05,0.06,0.08,0.1,0.12,0.12,0.12,0.06,0.02,0.03,0.05,0.06,0.08,0.1,0.12,0.11,0.1,0.12,0.15,0.13,0.12,0.1,0.08,0.04,0,-0.03,-0.05];
const SO_DEMG_2=[0.08,0.06,0.05,0.1,0.15,0.08,0.05,0.07,0.1,0.09,0.08,0.09,0.1,0.07,0.05,0.02,0,0.02,0.05,0.02,0,0.02,0.05,0.06,0.08,0.09,0.1,0.11,0.12,0.13,0.15,0.25,0.3,0.2,0.1,0.07,0.05,0.06,0.08,0.06,0.05];
const SO_DEMG_3=[0.05,0.05,0.05,0.05,0.05,0.04,0.04,0.03,0.03,0.03,0.04,0.05,0.05,0.06,0.08,0.12,0.15,0.2,0.15,0.22,0.3,0.2,0.12,0.18,0.25,0.2,0.12,0.15,0.2,0.18,0.15,0.13,0.12,0.11,0.1,0.08,0.05,0.05,0.05,0.05,0.05];
const SO_DEMG_4=[0.1,0.09,0.08,0.06,0.05,0.05,0.05,0.05,0.05,0.05,0.05,0.1,0.2,0.1,0.08,0.12,0.2,0.3,0.35,0.45,0.5,0.55,0.45,0.38,0.48,0.55,0.45,0.3,0.45,0.35,0.2,0.1,0.08,0.06,0.05,0.05,0.05,0.02,0,-0.05,-0.1];
const SO_DEMG_5=[0.05,0.03,0,0.01,0.02,0.01,0,-0.02,-0.05,-0.06,-0.05,0,0.05,0.08,0.1,0.15,0.25,0.3,0.4,0.5,0.57,0.5,0.45,0.4,0.35,0.3,0.2,0.1,0.05,0.02,0.05,0.12,0.15,0.08,0.05,0,-0.05,0,0.05,-0.03,-0.05];
const TA_DEMG_1=[0.05,0.06,0.08,0.06,0.05,0.05,0.05,0.07,0.08,0.06,0.05,0.07,0.08,0.06,0.05,0.05,0.06,0.1,0,0.01,0.02,0.03,0.04,0.05,0.05,0.04,0.03,0.02,0.02,0.02,0.02,0.03,0.03,0.03,0.02,0.02,0.02,0.02,0.02,0.02,0.02];
const TA_DEMG_2=[0.15,0.05,0.02,0.05,0.1,0.15,0.05,0.02,0,0.03,0.05,0.03,0.02,0.01,0,0.02,0.03,0,-0.05,-0.07,-0.08,-0.09,-0.1,-0.1,-0.1,-0.12,-0.05,-0.02,0,0.01,0.02,0.02,0.03,0.02,0.02,0.02,0.02,0.02,0.03,0.03,0.03];
const TA_DEMG_3=[0.02,0,-0.02,-0.03,-0.03,-0.01,0,0.01,0.02,0,-0.02,-0.01,-0.02,0,0.02,0.04,0.05,0,-0.03,-0.06,-0.08,-0.07,-0.05,-0.03,-0.02,-0.04,-0.05,-0.04,-0.03,-0.01,0,0.01,0.02,0.01,0,0,0,0.01,0.02,0.04,0.05];
const TA_DEMG_4=[0.1,0.05,0.08,0.03,0,0.03,0.05,0.07,0.08,0.04,0,0.03,0.05,0.02,-0.02,-0.01,0,-0.01,-0.02,-0.01,0,-0.02,-0.03,0.05,0.12,0.05,0,0.02,0.05,0.08,0.02,0.03,0.05,0.12,0.05,0.02,0,0.03,0.05,0.05,0.05];
const TA_DEMG_5=[0,-0.01,-0.02,-0.01,0,0.01,0.02,0.01,0,-0.01,-0.02,-0.04,-0.05,-0.04,-0.03,-0.02,-0.02,-0.02,-0.03,-0.04,-0.05,-0.04,-0.03,-0.02,-0.02,-0.01,0,-0.01,-0.02,-0.01,0,0.01,0.02,0.01,0,-0.01,-0.02,-0.01,0,0.01,0.02];

// ---------- tables built from the arrays: [unperturbed, i1..i5, lo, hi] ----------
const MTL={GM:[GM_MTL_U,GM_MTL_1,GM_MTL_2,GM_MTL_3,GM_MTL_4,GM_MTL_5],GL:[GL_MTL_U,GL_MTL_1,GL_MTL_2,GL_MTL_3,GL_MTL_4,GL_MTL_5],SO:[SO_MTL_U,SO_MTL_1,SO_MTL_2,SO_MTL_3,SO_MTL_4,SO_MTL_5],TA:[TA_MTL_U,TA_MTL_1,TA_MTL_2,TA_MTL_3,TA_MTL_4,TA_MTL_5]};
const DMTL={GM:[null,GM_DMTL_1,GM_DMTL_2,GM_DMTL_3,GM_DMTL_4,GM_DMTL_5],GL:[null,GL_DMTL_1,GL_DMTL_2,GL_DMTL_3,GL_DMTL_4,GL_DMTL_5],SO:[null,SO_DMTL_1,SO_DMTL_2,SO_DMTL_3,SO_DMTL_4,SO_DMTL_5],TA:[null,TA_DMTL_1,TA_DMTL_2,TA_DMTL_3,TA_DMTL_4,TA_DMTL_5]};
const MTV={GM:[GM_MTV_U,GM_MTV_1,GM_MTV_2,GM_MTV_3,GM_MTV_4,GM_MTV_5],GL:[GL_MTV_U,GL_MTV_1,GL_MTV_2,GL_MTV_3,GL_MTV_4,GL_MTV_5],SO:[SO_MTV_U,SO_MTV_1,SO_MTV_2,SO_MTV_3,SO_MTV_4,SO_MTV_5],TA:[TA_MTV_U,TA_MTV_1,TA_MTV_2,TA_MTV_3,TA_MTV_4,TA_MTV_5]};
const DMTV={GM:[null,GM_DMTV_1,GM_DMTV_2,GM_DMTV_3,GM_DMTV_4,GM_DMTV_5],GL:[null,GL_DMTV_1,GL_DMTV_2,GL_DMTV_3,GL_DMTV_4,GL_DMTV_5],SO:[null,SO_DMTV_1,SO_DMTV_2,SO_DMTV_3,SO_DMTV_4,SO_DMTV_5],TA:[null,TA_DMTV_1,TA_DMTV_2,TA_DMTV_3,TA_DMTV_4,TA_DMTV_5]};
const EMG={GM:[GM_EMG_U,GM_EMG_1,GM_EMG_2,GM_EMG_3,GM_EMG_4,GM_EMG_5,GM_EMG_LO,GM_EMG_HI],GL:[GL_EMG_U,GL_EMG_1,GL_EMG_2,GL_EMG_3,GL_EMG_4,GL_EMG_5,GL_EMG_LO,GL_EMG_HI],SO:[SO_EMG_U,SO_EMG_1,SO_EMG_2,SO_EMG_3,SO_EMG_4,SO_EMG_5,SO_EMG_LO,SO_EMG_HI],TA:[TA_EMG_U,TA_EMG_1,TA_EMG_2,TA_EMG_3,TA_EMG_4,TA_EMG_5,TA_EMG_LO,TA_EMG_HI]};
const DEMG={GM:[null,GM_DEMG_1,GM_DEMG_2,GM_DEMG_3,GM_DEMG_4,GM_DEMG_5],GL:[null,GL_DEMG_1,GL_DEMG_2,GL_DEMG_3,GL_DEMG_4,GL_DEMG_5],SO:[null,SO_DEMG_1,SO_DEMG_2,SO_DEMG_3,SO_DEMG_4,SO_DEMG_5],TA:[null,TA_DEMG_1,TA_DEMG_2,TA_DEMG_3,TA_DEMG_4,TA_DEMG_5]};

const MUSCLES=['GM','GL','SO','TA'];
const NAMES=['Intens: 1','Intens: 2','Intens: 3','Intens: 4','Intens: 5'];
const COLORS=['#8b2ad6','#0a0ab8','#2fb52f','#f4ee00','#f01010'];
const STRIDE_COL=['#eaa870','#6060a8','#8a8ae0','#dccb6a','#ea8c8c'];
const PERT_COL=['#a884dc','#d4bc64','#eaa070'];
const FONT="'Liberation Sans',Arial,sans-serif";

// ---------- layout ----------
const COL_LEFT=[34,207,380,553], COL_W=154;
const ROW_TOP=[49,153,243,348,437,531], ROW_H=[68,67,68,67,68,76];

const ROWS=[
 {name:'MTL (norm.)',xs:X_MTL,d:MTL,min:0.9,max:1.06,lab:[0.9,1],tk:[0.9,1],kind:'shadow',box:false,zero:false,v:STRIDE_MARKS,vc:STRIDE_COL,smooth:0.3,w:1.6},
 {name:'\u0394 MTL',xs:X21,d:DMTL,min:-0.01,max:0.01,lab:[-0.01,0.01],tk:[-0.01,-0.005,0,0.005,0.01],kind:'delta',box:true,zero:true,v:PERT_MARKS,vc:PERT_COL,smooth:0.4,w:1.6},
 {name:'MTV (norm.)',xs:X_MTV,d:MTV,min:-0.12,max:0.105,lab:[-0.1,0,0.1],tk:[-0.1,0,0.1],kind:'shadow',box:false,zero:true,v:STRIDE_MARKS,vc:STRIDE_COL,smooth:0.3,w:1.6},
 {name:'\u0394 MTV',xs:X21,d:DMTV,min:-0.0117,max:0.0118,lab:[-0.01,0,0.01],tk:[-0.01,0,0.01],kind:'delta',box:true,zero:true,v:PERT_MARKS,vc:PERT_COL,smooth:0.4,w:1.6},
 {name:'EMG (norm.)',xs:X41,d:EMG,min:-0.06,max:1.8,lab:[0,0.5,1,1.5],tk:[0,0.5,1,1.5],kind:'band',box:false,zero:false,v:STRIDE_MARKS,vc:STRIDE_COL,smooth:false,w:1.2,xlab:true,xname:'Stride cycle (0-100%)',xgap:16},
 {name:'\u0394 EMG',xs:X41,d:DEMG,min:-0.17,max:1.5,lab:[0,0.5,1],tk:[0,0.5,1],kind:'delta',box:true,zero:true,v:PERT_MARKS,vc:PERT_COL,smooth:0.4,w:1.4,xlab:true,xname:'Perturbation (0-100%)',xgap:20}
];

const fmt=v=>String(+(+v).toFixed(4));
const AX='#7a7a7a';
const grids=[],xAxes=[],yAxes=[],series=[];
ROWS.forEach((R,r)=>{
 MUSCLES.forEach((m,c)=>{
  const k=grids.length;
  grids.push({left:COL_LEFT[c],top:ROW_TOP[r],width:COL_W,height:ROW_H[r],show:R.box,borderColor:'#8c8c8c',borderWidth:1,backgroundColor:'transparent'});
  xAxes.push({gridIndex:k,type:'value',min:0,max:100,interval:20,
   axisLine:{onZero:false,lineStyle:{color:AX}},
   axisTick:{inside:true,length:3,lineStyle:{color:AX}},
   axisLabel:{show:!!R.xlab,margin:3,fontSize:11.5,color:'#111',fontFamily:FONT,customValues:X_TICKS},
   splitLine:{show:false},
   name:R.xname||'',nameLocation:'middle',nameGap:R.xgap||20,
   nameTextStyle:{fontSize:10.5,color:'#222',fontFamily:FONT}});
  yAxes.push({gridIndex:k,type:'value',min:R.min,max:R.max,
   axisLine:{show:true,onZero:false,lineStyle:{color:AX}},
   axisTick:{show:true,inside:true,length:3,customValues:R.tk,lineStyle:{color:AX}},
   axisLabel:{show:c===0,customValues:R.lab,formatter:fmt,margin:4,fontSize:11,color:'#111',fontFamily:FONT},
   splitLine:{show:false},
   name:c===0?R.name:'',nameLocation:'middle',nameGap:20,nameRotate:90,
   nameTextStyle:{fontSize:10.5,color:'#222',fontFamily:FONT}});
  const arr=R.d[m];
  const xs=R.xs;
  const pts=ys=>xs.map((x,i)=>[x,ys[i]]);
  const marks={silent:true,symbol:['none','none'],z:1,label:{show:false},animation:false,data:[]};
  if(R.zero) marks.data.push({yAxis:0,lineStyle:{color:'#d2d2d2',type:'solid',width:1}});
  R.v.forEach((x,i)=>marks.data.push({xAxis:x,lineStyle:{color:R.vc[i],type:'dotted',width:1}}));
  let first=true;
  const add=s=>{Object.assign(s,{type:'line',xAxisIndex:k,yAxisIndex:k,symbol:'none',silent:true,animation:false});
   if(first){s.markLine=marks;first=false;} series.push(s);};
  if(R.kind==='shadow') add({name:'Unperturbed',data:pts(arr[0]),smooth:R.smooth,smoothMonotone:'x',lineStyle:{width:6,color:'#9c9c9c',opacity:0.5},itemStyle:{color:'#666'}});
  if(R.kind==='band'){
   const lo=arr[6], hi=arr[7];
   series.push({type:'custom',name:'band',xAxisIndex:k,yAxisIndex:k,silent:true,animation:false,clip:true,
    data:xs.map((x,i)=>[x,lo[i],hi[i]]),encode:{x:0,y:[1,2]},markLine:marks,
    renderItem:(p,api)=>{
     if(p.dataIndex!==0) return null;
     const poly=[];
     xs.forEach((x,i)=>poly.push(api.coord([x,hi[i]])));
     for(let i=xs.length-1;i>=0;i--) poly.push(api.coord([xs[i],lo[i]]));
     return {type:'polygon',shape:{points:poly},style:{fill:'#bababa'}};
    }});
   first=false;
  }
  for(let i=1;i<=5;i++){
   const w=(R.kind==='shadow'&&i===1)?2.6:R.w;
   add({name:NAMES[i-1],data:pts(arr[i]),smooth:R.smooth,smoothMonotone:R.smooth?'x':undefined,
    lineStyle:{width:w,color:COLORS[i-1],opacity:(R.kind==='shadow'&&i===1)?0.85:1},itemStyle:{color:COLORS[i-1]}});
  }
  if(R.kind==='band') add({name:'Unperturbed',data:pts(arr[0]),lineStyle:{width:1.8,color:'#000'},itemStyle:{color:'#000'}});
 });
});

const LEG=['Intens: 5','Intens: 4','Intens: 3','Intens: 2','Intens: 1','Unperturbed'];
const LEG_COL=['#f01010','#f4ee00','#2fb52f','#0a0ab8','#8b2ad6','#555555'];
const chart=echarts.init(document.getElementById('c'),null,{renderer:'svg',width:750,height:640});
chart.setOption({
 animation:false,backgroundColor:'#fff',
 grid:grids,xAxis:xAxes,yAxis:yAxes,series:series,
 legend:{orient:'vertical',right:1,top:1,icon:'rect',itemWidth:21,itemHeight:2,itemGap:3,
  padding:[5,2,4,3],backgroundColor:'#fff',borderColor:'#999',borderWidth:1,selectedMode:false,z:10,
  textStyle:{fontFamily:FONT,fontSize:10,color:'#111',padding:[0,0,0,-2]},
  data:LEG.map((n,i)=>({name:n,itemStyle:{color:LEG_COL[i],opacity:1}}))}
});

// titles + zoom connectors (derived from axis scales)
const g=[];
g.push({type:'text',x:368,y:11,z:20,style:{text:'ACCELERATION',fontSize:16,fontWeight:'bold',fontFamily:FONT,fill:'#111',align:'center',verticalAlign:'middle'}});
MUSCLES.forEach((m,c)=>g.push({type:'text',x:COL_LEFT[c]+COL_W/2,y:31,z:20,style:{text:m,fontSize:16,fontWeight:'bold',fontFamily:FONT,fill:'#111',align:'center',verticalAlign:'middle'}}));
[[0,1],[2,3],[4,5]].forEach(([ru,rl])=>{
 MUSCLES.forEach((m,c)=>{
  const iu=ru*4+c, il=rl*4+c;
  const fu={xAxisIndex:iu,yAxisIndex:iu}, fl={xAxisIndex:il,yAxisIndex:il};
  const p1=chart.convertToPixel(fu,[ZOOM_WINDOW[0],ROWS[ru].min]);
  const p2=chart.convertToPixel(fu,[ZOOM_WINDOW[1],ROWS[ru].min]);
  const q1=chart.convertToPixel(fl,[0,ROWS[rl].max]);
  const q2=chart.convertToPixel(fl,[100,ROWS[rl].max]);
  [[p1,q1],[p2,q2]].forEach(([a,b])=>g.push({type:'line',z:0,silent:true,shape:{x1:a[0],y1:a[1],x2:b[0],y2:b[1]},style:{stroke:'#b0b0b0',lineWidth:1}}));
 });
});
chart.setOption({graphic:g});
</script></body></html>
